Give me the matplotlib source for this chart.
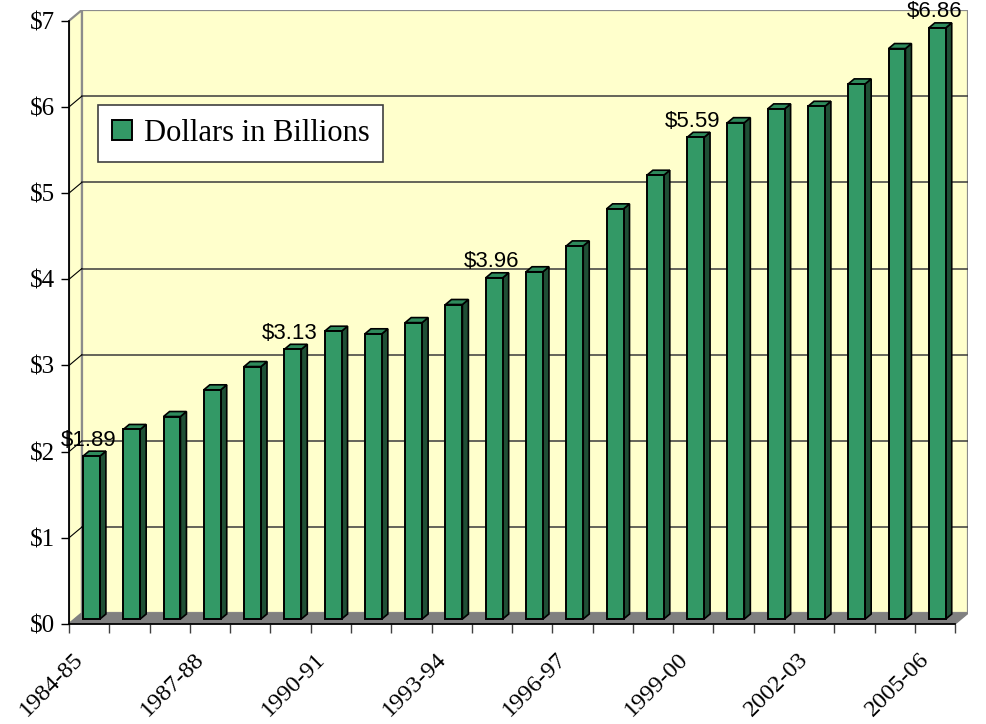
import numpy as np
import matplotlib.pyplot as plt
from matplotlib.patches import Polygon

plt.rcParams['text.parse_math'] = False

# data
years = ['1984-85', '1985-86', '1986-87', '1987-88', '1988-89', '1989-90',
         '1990-91', '1991-92', '1992-93', '1993-94', '1994-95', '1995-96',
         '1996-97', '1997-98', '1998-99', '1999-00', '2000-01', '2001-02',
         '2002-03', '2003-04', '2004-05', '2005-06']
values = [1.89, 2.20, 2.35, 2.66, 2.93, 3.13, 3.34, 3.31, 3.44, 3.65, 3.96,
          4.03, 4.33, 4.76, 5.15, 5.59, 5.76, 5.92, 5.95, 6.21, 6.62, 6.86]
labelled_years = ['1984-85', '1989-90', '1994-95', '1999-00', '2005-06']
ytick_labels = ['$0', '$1', '$2', '$3', '$4', '$5', '$6', '$7']
series_name = 'Dollars in Billions'

# fake 3d depth (data units)
DX, DY = 0.32, 0.125
f_front, g_depth = 0.46, 0.465
n = len(years)
ymax = len(ytick_labels) - 1

fig = plt.figure(figsize=(9.86, 7.24), dpi=100)
ax = fig.add_axes([69 / 986, 100 / 724, 899 / 986, 614 / 724])
ax.set_xlim(0, n + DX)
ax.set_ylim(0, ymax + DY)
ax.set_facecolor('none')

# walls and floor
ax.add_patch(Polygon([(DX, DY), (n + DX, DY), (n + DX, ymax + DY), (DX, ymax + DY)],
                     closed=True, fc='#FFFFCC', ec='#8c8c8c', lw=1.6, zorder=0))
ax.add_patch(Polygon([(0, 0), (DX, DY), (DX, ymax + DY), (0, ymax)],
                     closed=True, fc='#FFFFCC', ec='#8c8c8c', lw=1.6, zorder=0))
ax.add_patch(Polygon([(0, 0), (n, 0), (n + DX, DY), (DX, DY)],
                     closed=True, fc='#808080', ec='#808080', lw=1, zorder=1))

for k in range(1, ymax):
    ax.plot([DX, n + DX], [k + DY, k + DY], color='#3a3a3a', lw=1.1, zorder=1)
    ax.plot([0, DX], [k, k + DY], color='black', lw=0.8, zorder=1)

# bars: front faces
x0 = np.arange(n) + 0.2 + f_front * DX
bars = ax.bar(x0, values, width=0.42, bottom=f_front * DY, align='edge',
              color='#339966', edgecolor='black', lw=1.4, zorder=3,
              label=series_name)

# side and top faces
for b in bars:
    xl, xr = b.get_x(), b.get_x() + b.get_width()
    yb, yt = b.get_y(), b.get_y() + b.get_height()
    ox, oy = g_depth * DX, g_depth * DY
    ax.add_patch(Polygon([(xr, yb), (xr + ox, yb + oy), (xr + ox, yt + oy), (xr, yt)],
                         closed=True, fc='#1f4f35', ec='black', lw=1.2, zorder=2))
    ax.add_patch(Polygon([(xl, yt), (xl + ox, yt + oy), (xr + ox, yt + oy), (xr, yt)],
                         closed=True, fc='#2e8b5c', ec='black', lw=1.2, zorder=2))

# data labels
for yr in labelled_years:
    i = years.index(yr)
    b = bars[i]
    ax.annotate('$%.2f' % values[i],
                (b.get_x() + b.get_width() / 2, b.get_y() + b.get_height() + g_depth * DY),
                xytext=(-2, 4), textcoords='offset points', ha='center', va='baseline',
                family='Liberation Sans', fontsize=16, zorder=5)

# axes
for s in ['top', 'right']:
    ax.spines[s].set_visible(False)
ax.spines['left'].set_bounds(0, ymax)
ax.spines['bottom'].set_bounds(0, n)
ax.spines['left'].set_linewidth(1.3)
ax.spines['bottom'].set_linewidth(1.3)

ax.set_yticks(range(ymax + 1))
ax.set_yticklabels(ytick_labels, family='Liberation Serif', fontsize=18)
ax.tick_params(axis='y', length=6, width=1, pad=4, color='black')

ax.set_xticks(np.arange(0, n, 3) + 0.28)
ax.set_xticklabels(years[::3], family='Liberation Serif', fontsize=17.5,
                   rotation=45, ha='right', va='center', rotation_mode='anchor')
ax.set_xticks(np.arange(n + 1), minor=True)
ax.tick_params(axis='x', which='major', length=0, pad=23)
ax.tick_params(axis='x', which='minor', length=6.5, width=1, color='#404040')

leg = ax.legend(handles=[bars], loc='upper left',
                bbox_to_anchor=(98 / 986, 1 - 105 / 724), bbox_transform=fig.transFigure,
                prop={'family': 'Liberation Serif', 'size': 22},
                fancybox=False, framealpha=1, edgecolor='#404040', borderaxespad=0,
                borderpad=0.45, handlelength=0.65, handleheight=0.65, handletextpad=0.4)
leg.get_frame().set_linewidth(1.2)

fig.savefig('out.png', dpi=100)
